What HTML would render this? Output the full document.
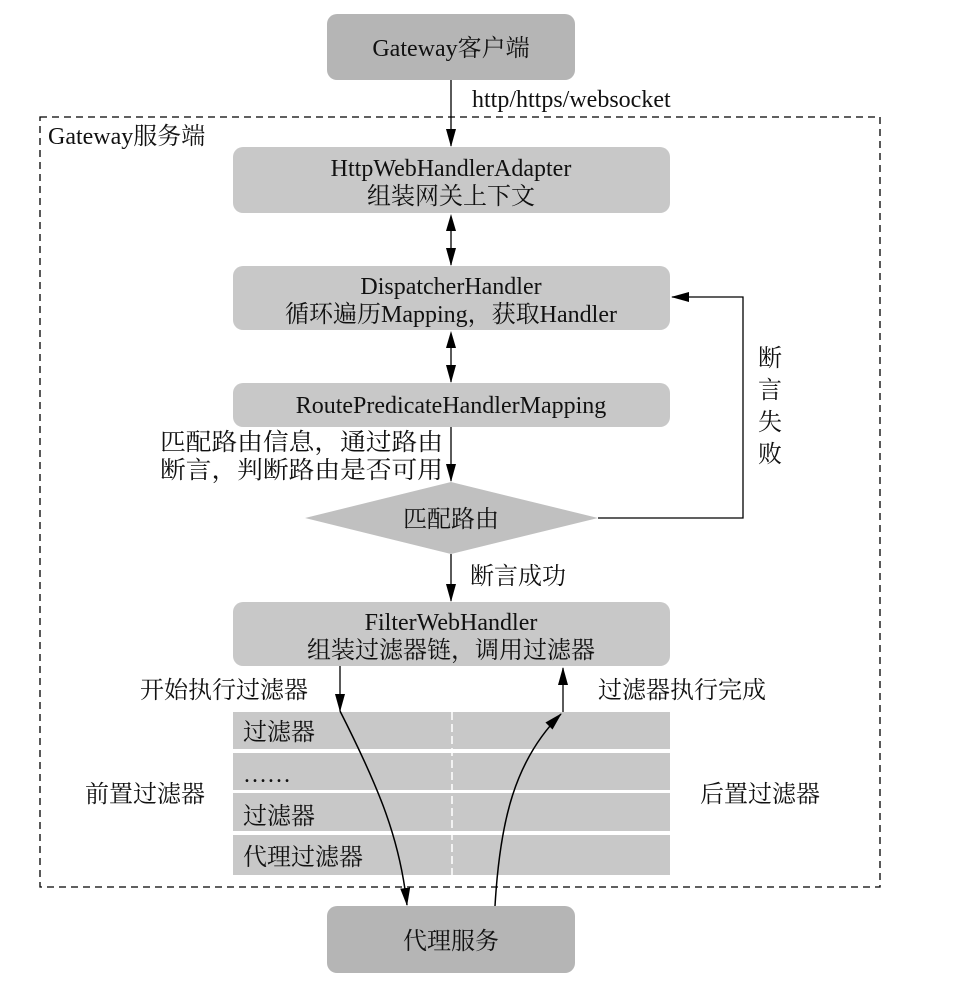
<!DOCTYPE html>
<html><head><meta charset="utf-8"><style>
html,body{margin:0;padding:0;background:#fff}
svg{display:block}
text{font-family:"Liberation Serif","Noto Serif CJK SC",serif;font-size:24px;fill:#111}
</style></head><body>
<svg width="975" height="985" viewBox="0 0 975 985" xmlns="http://www.w3.org/2000/svg">
<defs>
<marker id="a" markerWidth="18" markerHeight="12" refX="17" refY="6" orient="auto" markerUnits="userSpaceOnUse">
<path d="M0,1 L18,6 L0,11 Z" fill="#000"/></marker>
</defs>
<rect x="40" y="117" width="840" height="770" fill="none" stroke="#000" stroke-width="1.3" stroke-dasharray="7,5"/>
<text x="48" y="144">Gateway服务端</text>

<rect x="327" y="14" width="248" height="66" rx="10" fill="#b5b5b5"/>
<text x="451" y="56" text-anchor="middle">Gateway客户端</text>
<line x1="451" y1="80" x2="451" y2="146" stroke="#000" stroke-width="1.3" marker-end="url(#a)"/>
<text x="472" y="107">http/https/websocket</text>

<rect x="233" y="147" width="437" height="66" rx="10" fill="#c8c8c8"/>
<text x="451" y="176" text-anchor="middle">HttpWebHandlerAdapter</text>
<text x="451" y="204" text-anchor="middle">组装网关上下文</text>
<path d="M446,231 L451,214 L456,231 Z"/>
<line x1="451" y1="225" x2="451" y2="265" stroke="#000" stroke-width="1.3" marker-end="url(#a)"/>

<rect x="233" y="266" width="437" height="64" rx="10" fill="#c8c8c8"/>
<text x="451" y="294" text-anchor="middle">DispatcherHandler</text>
<text x="451" y="322" text-anchor="middle">循环遍历Mapping，获取Handler</text>
<path d="M446,348 L451,331 L456,348 Z"/>
<line x1="451" y1="342" x2="451" y2="382" stroke="#000" stroke-width="1.3" marker-end="url(#a)"/>

<rect x="233" y="383" width="437" height="44" rx="10" fill="#c8c8c8"/>
<text x="451" y="413" text-anchor="middle">RoutePredicateHandlerMapping</text>
<line x1="451" y1="427" x2="451" y2="481" stroke="#000" stroke-width="1.3" marker-end="url(#a)"/>
<text x="160" y="450" textLength="283" lengthAdjust="spacingAndGlyphs">匹配路由信息，通过路由</text>
<text x="160" y="478" textLength="283" lengthAdjust="spacingAndGlyphs">断言，判断路由是否可用</text>

<polygon points="305,518 451,482 598,518 451,554" fill="#c0c0c0"/>
<text x="451" y="527" text-anchor="middle">匹配路由</text>
<polyline points="598,518 743,518 743,297 672,297" fill="none" stroke="#000" stroke-width="1.3" marker-end="url(#a)"/>
<text x="758" y="366">断</text>
<text x="758" y="398">言</text>
<text x="758" y="430">失</text>
<text x="758" y="462">败</text>
<line x1="451" y1="554" x2="451" y2="601" stroke="#000" stroke-width="1.3" marker-end="url(#a)"/>
<text x="470" y="584">断言成功</text>

<rect x="233" y="602" width="437" height="64" rx="10" fill="#c8c8c8"/>
<text x="451" y="630" text-anchor="middle">FilterWebHandler</text>
<text x="451" y="658" text-anchor="middle">组装过滤器链，调用过滤器</text>

<rect x="233" y="712" width="437" height="37" fill="#c8c8c8"/>
<rect x="233" y="753" width="437" height="37" fill="#c8c8c8"/>
<rect x="233" y="793" width="437" height="38" fill="#c8c8c8"/>
<rect x="233" y="835" width="437" height="40" fill="#c8c8c8"/>
<line x1="452" y1="712" x2="452" y2="875" stroke="#fff" stroke-width="1.5" stroke-dasharray="8,4"/>
<text x="243" y="740">过滤器</text>
<text x="243" y="782">……</text>
<text x="243" y="824">过滤器</text>
<text x="243" y="865">代理过滤器</text>
<text x="85" y="802">前置过滤器</text>
<text x="700" y="802">后置过滤器</text>

<text x="140" y="698">开始执行过滤器</text>
<text x="598" y="698">过滤器执行完成</text>
<line x1="340" y1="666" x2="340" y2="711" stroke="#000" stroke-width="1.3" marker-end="url(#a)"/>
<path d="M340,711 C380,790 400,840 407,905" fill="none" stroke="#000" stroke-width="1.5" marker-end="url(#a)"/>
<path d="M495,906 C500,820 515,760 561,714" fill="none" stroke="#000" stroke-width="1.5" marker-end="url(#a)"/>
<line x1="563" y1="712" x2="563" y2="668" stroke="#000" stroke-width="1.3" marker-end="url(#a)"/>

<rect x="327" y="906" width="248" height="67" rx="10" fill="#b5b5b5"/>
<text x="451" y="949" text-anchor="middle">代理服务</text>
</svg>
</body></html>
